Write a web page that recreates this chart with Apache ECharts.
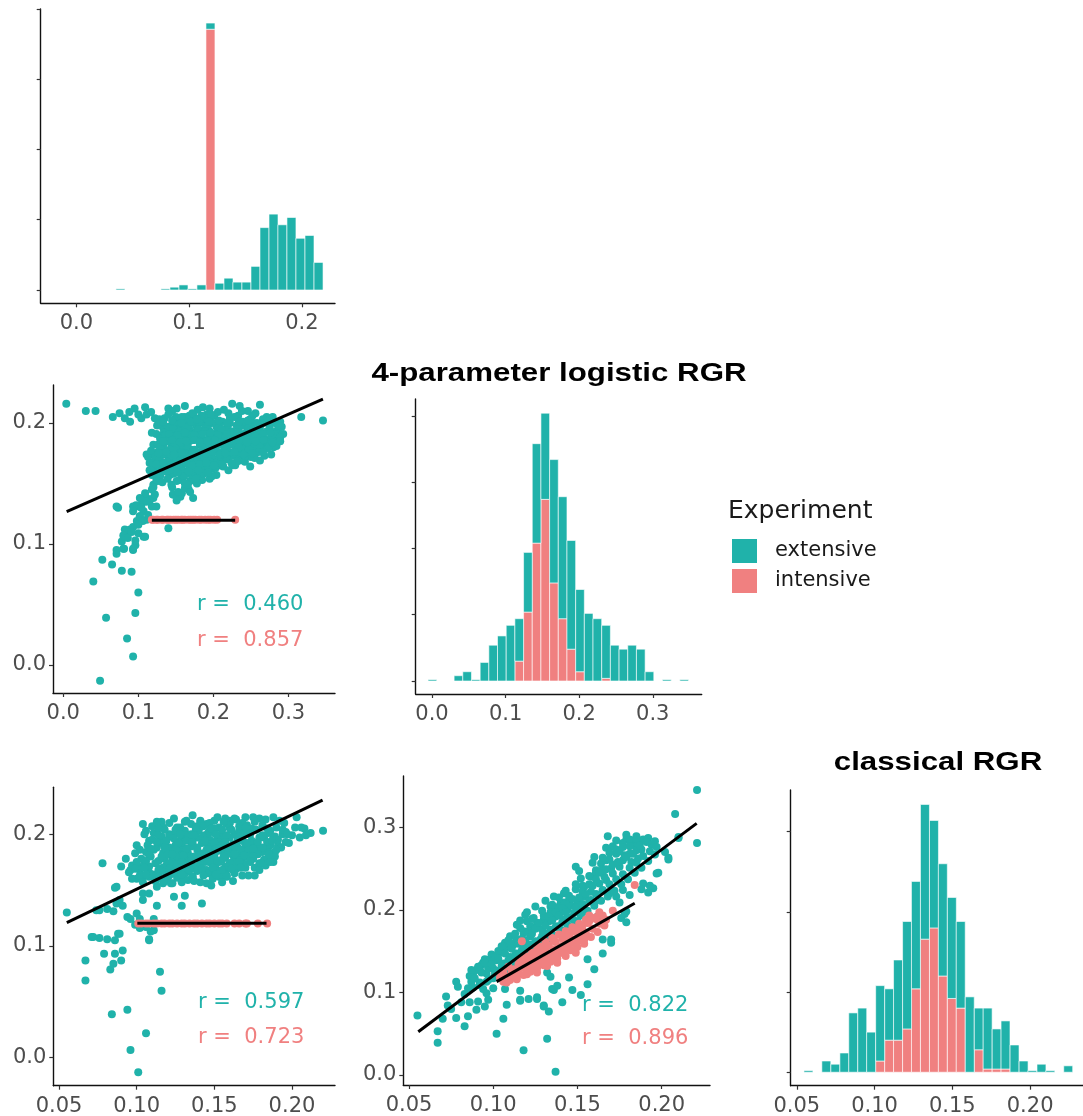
<!DOCTYPE html>
<html>
<head>
<meta charset="utf-8">
<script src="https://cdn.jsdelivr.net/npm/echarts@6/dist/echarts.min.js"></script>
<style>
  html, body { margin: 0; padding: 0; background: #fff; }
  #chart { width: 1083px; height: 1116px; }
</style>
</head>
<body>
<div id="chart"></div>
<script>
const EXT_COLOR = '#20B2AA';
const INT_COLOR = '#F08080';

// ---- Histogram of the first RGR variable (top-left diagonal) ----
const binsFirst = [0.0391,0.0471,0.0551,0.0630,0.0710,0.0790,0.0870,0.0950,0.1029,0.1109,0.1189,
  0.1269,0.1349,0.1428,0.1508,0.1588,0.1668,0.1748,0.1827,0.1907,0.1987,0.2067,0.2147];
const binWidthFirst = 0.00798;
const histFirstExt = [2,0,0,0,0,2,5,9,2,9,11,12,21,14,14,42,111,135,116,129,92,97,49];
const histFirstInt = [0,0,0,0,0,0,0,0,0,0,464,0,0,0,0,0,0,0,0,0,0,0,0];

// ---- Histogram of 4-parameter logistic RGR ----
const binsLogistic = [0.0005,0.0123,0.0241,0.0359,0.0477,0.0595,0.0713,0.0831,0.0949,0.1067,
  0.1185,0.1303,0.1421,0.1539,0.1657,0.1775,0.1893,0.2011,0.2129,0.2247,
  0.2365,0.2483,0.2601,0.2719,0.2837,0.2955,0.3073,0.3191,0.3309,0.3427];
const binWidthLogistic = 0.0118;
const histLogisticExt = [1,0,0,4,7,1,14,27,34,42,32,45,75,65,93,92,82,62,51,47,40,27,24,27,24,7,0,1,0,1];
const histLogisticInt = [0,0,0,0,0,0,0,0,0,0,15,52,104,137,74,47,24,7,0,0,2,0,0,0,0,0,0,0,0,0];

// ---- Histogram of classical RGR ----
const binsClassical = [0.0575,0.0633,0.0690,0.0748,0.0806,0.0863,0.0921,0.0978,0.1036,0.1094,
  0.1151,0.1209,0.1266,0.1324,0.1382,0.1439,0.1497,0.1554,0.1612,0.1670,
  0.1727,0.1785,0.1842,0.1900,0.1958,0.2015,0.2073,0.2130,0.2188,0.2245];
const binWidthClassical = 0.00576;
const histClassicalExt = [1,0,7,5,12,37,40,25,47,32,50,67,67,84,67,70,63,54,47,26,38,25,30,17,7,1,5,1,0,4];
const histClassicalInt = [0,0,0,0,0,0,0,0,7,20,20,27,52,83,90,60,46,40,0,14,2,2,2,0,0,0,0,0,0,0];

// ---- Scatter: x = 4-parameter logistic RGR, y = first RGR ----
const logisticVsFirstExt = [
  [0.040,0.069],[0.052,0.087],[0.065,0.083],[0.071,0.131],[0.071,0.092],[0.078,0.078],[0.081,0.096],[0.085,0.109],
  [0.091,0.077],[0.093,0.095],[0.096,0.099],[0.100,0.060],[0.057,0.039],[0.096,0.043],[0.085,0.022],[0.093,0.007],
  [0.049,-0.013],[0.078,0.102],[0.082,0.106],[0.089,0.112],[0.093,0.114],[0.098,0.119],[0.102,0.123],[0.107,0.127],
  [0.093,0.131],[0.100,0.131],[0.105,0.134],[0.111,0.138],[0.109,0.142],[0.118,0.145],[0.120,0.149],[0.107,0.106],
  [0.100,0.109],[0.096,0.103],[0.111,0.120],[0.113,0.124],[0.118,0.131],[0.120,0.138],[0.124,0.131],[0.124,0.153],
  [0.129,0.156],[0.140,0.113],[0.145,0.147],[0.147,0.141],[0.156,0.139],[0.158,0.142],[0.151,0.136],[0.167,0.145],
  [0.173,0.138],
  [0.004,0.216],[0.030,0.210],[0.043,0.210],[0.066,0.205],[0.075,0.208],[0.082,0.204],[0.088,0.209],[0.089,0.201],
  [0.095,0.212],[0.100,0.207],[0.104,0.204],[0.109,0.213],[0.111,0.207],[0.117,0.209],[0.128,0.203],[0.135,0.204],
  [0.140,0.212],[0.151,0.212],[0.162,0.214],[0.143,0.197],[0.153,0.201],[0.162,0.205],[0.173,0.207],[0.186,0.213],
  [0.195,0.212],[0.225,0.216],[0.235,0.214],[0.262,0.215],[0.271,0.205],[0.317,0.205],[0.346,0.202],[0.222,0.204],
  [0.249,0.203],[0.289,0.201],[0.286,0.193],[0.280,0.180],[0.277,0.174],[0.271,0.186],[0.262,0.182],[0.253,0.190],
  [0.244,0.197],[0.235,0.187],[0.229,0.176],[0.217,0.179],[0.209,0.187],[0.204,0.197],[0.195,0.193],[0.186,0.200],
  [0.177,0.198],[0.169,0.194],[0.160,0.191],[0.151,0.189],[0.142,0.190],[0.133,0.196],[0.129,0.189],[0.124,0.191],
  [0.144,0.182],[0.153,0.179],[0.164,0.183],[0.173,0.186],[0.182,0.182],[0.191,0.183],[0.200,0.179],[0.209,0.175],
  [0.217,0.172],[0.226,0.165],[0.235,0.169],[0.244,0.176],[0.253,0.174],[0.262,0.169],[0.209,0.165],[0.200,0.168],
  [0.191,0.171],[0.182,0.168],[0.173,0.172],[0.164,0.169],[0.155,0.172],[0.146,0.169],[0.137,0.174],[0.129,0.172],
  [0.120,0.174],[0.113,0.172],[0.115,0.167],[0.120,0.165],[0.131,0.165],[0.142,0.164],[0.151,0.160],[0.164,0.160],
  [0.177,0.161],[0.191,0.160],[0.195,0.154],[0.182,0.156],[0.169,0.152],[0.155,0.153],[0.142,0.157],[0.144,0.149],
  [0.146,0.141],[0.153,0.143],[0.162,0.146],[0.169,0.143],[0.166,0.149],[0.204,0.157],[0.213,0.164],[0.229,0.165],
  [0.242,0.168],[0.249,0.164],[0.257,0.176],[0.266,0.179],[0.275,0.182],[0.284,0.187],[0.291,0.197],[0.282,0.200],
  [0.293,0.191],[0.262,0.196],[0.253,0.200],[0.235,0.197],[0.226,0.190],[0.217,0.186],[0.213,0.193],[0.195,0.204],
  [0.182,0.204],[0.171,0.203],[0.160,0.198],[0.173,0.191],[0.184,0.190],[0.195,0.189],[0.209,0.182],[0.222,0.182],
  [0.235,0.179],[0.249,0.185],[0.266,0.190],[0.275,0.196],[0.182,0.176],[0.191,0.176],[0.164,0.176],[0.155,0.185],
  [0.146,0.176],[0.133,0.182],[0.126,0.176],[0.122,0.169],[0.111,0.174],[0.120,0.182],[0.115,0.161],[0.124,0.158],
  [0.126,0.152],[0.120,0.147],[0.122,0.141],[0.115,0.136],[0.111,0.135],[0.102,0.138],[0.097,0.132],[0.104,0.130],
  [0.093,0.127],[0.073,0.130],[0.102,0.123],[0.106,0.119],[0.100,0.116],[0.082,0.112],[0.091,0.110],[0.080,0.107],
  [0.086,0.105],[0.109,0.106],[0.071,0.095],[0.080,0.096],[0.093,0.096],
  [0.140,0.186],[0.148,0.194],[0.157,0.195],[0.166,0.188],[0.178,0.193],[0.187,0.186],[0.198,0.184],[0.206,0.192],
  [0.219,0.196],[0.228,0.185],[0.240,0.188],[0.246,0.180],[0.258,0.185],[0.268,0.173],[0.283,0.193],[0.150,0.178],
  [0.160,0.180],[0.170,0.178],[0.178,0.171],[0.188,0.179],[0.196,0.172],[0.205,0.170],[0.214,0.177],[0.224,0.173],
  [0.232,0.172],[0.240,0.181],[0.255,0.180],[0.270,0.184],[0.137,0.167],[0.148,0.166],[0.158,0.165],[0.170,0.164],
  [0.180,0.163],[0.188,0.165],[0.198,0.162],[0.158,0.156],[0.171,0.157],[0.185,0.153],[0.178,0.150],[0.132,0.160],
  [0.128,0.166],[0.135,0.178],[0.139,0.193],[0.147,0.200],[0.158,0.203],[0.168,0.199],[0.190,0.196],[0.200,0.200],
  [0.210,0.201],[0.220,0.190],[0.244,0.192],[0.258,0.193],[0.278,0.190],[0.288,0.185],[0.262,0.178],[0.250,0.172],
  [0.238,0.175],[0.125,0.198],[0.118,0.192],
  [0.145,0.210],[0.168,0.206],[0.179,0.211],[0.191,0.207],[0.206,0.209],[0.214,0.211],[0.233,0.206],[0.246,0.210],
  [0.256,0.208],[0.122,0.204],[0.150,0.205],[0.164,0.201],[0.189,0.204],[0.201,0.206],[0.212,0.201],[0.228,0.205],
  [0.239,0.201],[0.266,0.203],[0.279,0.205],[0.127,0.199],[0.139,0.197],[0.153,0.199],[0.165,0.196],[0.181,0.201],
  [0.193,0.198],[0.207,0.196],[0.222,0.200],[0.231,0.198],[0.247,0.196],[0.267,0.200],[0.286,0.198],[0.134,0.192],
  [0.147,0.195],[0.155,0.193],[0.168,0.191],[0.180,0.195],[0.189,0.193],[0.202,0.191],[0.211,0.195],[0.225,0.193],
  [0.238,0.191],[0.252,0.195],[0.271,0.193],[0.281,0.191],[0.129,0.187],[0.136,0.190],[0.149,0.188],[0.160,0.186],
  [0.171,0.190],[0.181,0.188],[0.192,0.186],[0.204,0.190],[0.215,0.188],[0.230,0.186],[0.243,0.189],[0.254,0.188],
  [0.264,0.186],[0.277,0.189],[0.289,0.188],[0.126,0.182],[0.139,0.185],[0.152,0.183],[0.160,0.181],[0.168,0.185],
  [0.186,0.183],[0.198,0.181],[0.207,0.184],[0.215,0.183],[0.229,0.181],[0.237,0.185],[0.251,0.183],[0.261,0.181],
  [0.272,0.184],[0.284,0.181],[0.117,0.177],[0.129,0.180],[0.142,0.178],[0.157,0.176],[0.166,0.180],[0.175,0.178],
  [0.186,0.176],[0.194,0.179],[0.204,0.177],[0.221,0.176],[0.234,0.180],[0.247,0.178],[0.260,0.176],[0.272,0.179],
  [0.123,0.172],[0.134,0.175],[0.143,0.173],[0.151,0.171],[0.162,0.175],[0.170,0.173],[0.179,0.171],[0.189,0.174],
  [0.198,0.173],[0.211,0.171],[0.227,0.175],[0.242,0.173],[0.255,0.171],[0.119,0.167],[0.128,0.170],[0.138,0.168],
  [0.149,0.166],[0.159,0.170],[0.169,0.168],[0.176,0.166],[0.187,0.169],[0.195,0.168],[0.207,0.166],[0.218,0.170],
  [0.231,0.168],[0.122,0.162],[0.133,0.165],[0.146,0.163],[0.155,0.161],[0.167,0.165],[0.174,0.163],[0.185,0.161],
  [0.193,0.164],[0.203,0.163],[0.220,0.161],[0.118,0.157],[0.137,0.160],[0.147,0.158],[0.161,0.156],[0.175,0.159],
  [0.187,0.158],[0.198,0.156],[0.132,0.151],[0.139,0.154],[0.151,0.152],[0.162,0.150],[0.177,0.154],
  [0.140,0.207],[0.158,0.205],[0.172,0.208],[0.184,0.206],[0.197,0.207],[0.220,0.208],[0.238,0.210],[0.252,0.206],
  [0.133,0.201],[0.145,0.202],[0.157,0.200],[0.170,0.201],[0.178,0.203],[0.194,0.201],[0.207,0.202],[0.218,0.200],
  [0.234,0.201],[0.246,0.202],[0.258,0.200],[0.272,0.201],[0.141,0.191],[0.152,0.190],[0.162,0.192],[0.175,0.190],
  [0.185,0.191],[0.196,0.192],[0.206,0.190],[0.218,0.191],[0.232,0.192],[0.245,0.190],[0.258,0.189],[0.266,0.191],
  [0.276,0.192],[0.133,0.185],[0.145,0.186],[0.156,0.184],[0.164,0.185],[0.175,0.186],[0.182,0.184],[0.192,0.185],
  [0.202,0.186],[0.211,0.184],[0.222,0.185],[0.234,0.186],[0.245,0.184],[0.256,0.185],[0.267,0.186],[0.279,0.184],
  [0.289,0.185],[0.127,0.175],[0.137,0.176],[0.148,0.174],[0.158,0.175],[0.172,0.176],[0.181,0.174],[0.190,0.175],
  [0.199,0.176],[0.208,0.174],[0.216,0.175],[0.228,0.176],[0.240,0.174],[0.252,0.175],[0.266,0.176],[0.124,0.166],
  [0.133,0.167],[0.144,0.165],[0.154,0.166],[0.164,0.167],[0.172,0.165],[0.182,0.166],[0.191,0.167],[0.201,0.165],
  [0.212,0.166],[0.224,0.167],[0.127,0.160],[0.141,0.161],[0.152,0.159],[0.167,0.160],[0.180,0.161],[0.193,0.159]
];
const logisticVsFirstInt = [
  [0.118,0.120],[0.120,0.120],[0.124,0.120],[0.126,0.120],[0.131,0.120],[0.133,0.120],[0.138,0.120],[0.140,0.120],
  [0.143,0.120],[0.147,0.120],[0.150,0.120],[0.153,0.120],[0.157,0.120],[0.159,0.120],[0.162,0.120],[0.167,0.120],
  [0.170,0.120],[0.173,0.120],[0.176,0.120],[0.181,0.120],[0.184,0.120],[0.189,0.120],[0.193,0.120],[0.196,0.120],
  [0.201,0.120],[0.205,0.120],[0.229,0.120]
];

// ---- Scatter: x = classical RGR, y = first RGR ----
const classicalVsFirstExt = [
  [0.055,0.130],[0.067,0.087],[0.067,0.069],[0.071,0.108],[0.076,0.107],[0.079,0.093],[0.083,0.079],[0.084,0.039],
  [0.085,0.084],[0.086,0.093],[0.088,0.111],[0.090,0.087],[0.091,0.096],[0.094,0.043],[0.096,0.007],[0.101,-0.013],
  [0.106,0.022],[0.115,0.077],[0.116,0.060],[0.108,0.106],[0.106,0.117],[0.109,0.113],[0.102,0.116],[0.099,0.119],
  [0.096,0.124],[0.094,0.126],[0.076,0.132],[0.081,0.133],[0.085,0.131],[0.087,0.138],[0.086,0.152],[0.078,0.174],
  [0.074,0.132],[0.089,0.141],[0.087,0.153],[0.091,0.136],[0.100,0.129],[0.104,0.141],[0.104,0.147],[0.108,0.147],
  [0.111,0.114],[0.108,0.105],[0.089,0.111],[0.086,0.105],[0.081,0.106],[0.072,0.108],[0.111,0.124],[0.102,0.124],
  [0.113,0.136],[0.124,0.144],[0.131,0.145],[0.129,0.136],[0.142,0.138],[0.176,0.163],[0.148,0.154],[0.104,0.209],
  [0.106,0.203],[0.105,0.200],[0.108,0.194],[0.116,0.211],[0.117,0.206],[0.100,0.190],[0.102,0.186],[0.099,0.183],
  [0.093,0.178],[0.090,0.171],[0.096,0.168],[0.101,0.171],[0.105,0.174],[0.108,0.166],[0.104,0.162],[0.100,0.160],
  [0.113,0.160],[0.117,0.156],[0.113,0.153],[0.123,0.156],[0.120,0.162],[0.128,0.162],[0.132,0.166],[0.136,0.162],
  [0.143,0.168],[0.149,0.165],[0.156,0.163],[0.162,0.168],[0.166,0.172],[0.173,0.175],[0.179,0.174],[0.186,0.178],
  [0.189,0.184],[0.183,0.188],[0.188,0.196],[0.194,0.200],[0.196,0.193],[0.192,0.212],[0.203,0.215],[0.202,0.206],
  [0.208,0.205],[0.220,0.203],[0.179,0.214],[0.175,0.215],[0.170,0.215],[0.163,0.214],[0.157,0.214],[0.150,0.212],
  [0.145,0.209],[0.136,0.217],[0.141,0.212],[0.131,0.211],[0.131,0.203],[0.126,0.206],[0.121,0.200],[0.119,0.194],
  [0.113,0.188],[0.117,0.183],[0.123,0.186],[0.128,0.194],[0.134,0.197],[0.138,0.203],[0.147,0.203],[0.153,0.206],
  [0.160,0.205],[0.166,0.203],[0.173,0.200],[0.179,0.197],[0.175,0.191],[0.168,0.194],[0.162,0.191],[0.156,0.194],
  [0.149,0.193],[0.143,0.194],[0.136,0.190],[0.130,0.184],[0.123,0.178],[0.119,0.172],[0.115,0.169],[0.123,0.169],
  [0.130,0.174],[0.136,0.178],[0.143,0.183],[0.149,0.186],[0.156,0.184],[0.162,0.181],[0.168,0.184],[0.175,0.183],
  [0.181,0.184],[0.186,0.190],[0.141,0.174],[0.147,0.175],[0.153,0.175],[0.160,0.174],[0.158,0.169],[0.151,0.169],
  [0.145,0.168],[0.137,0.169],[0.132,0.171],[0.127,0.166],[0.119,0.165],[0.108,0.171],[0.158,0.163],[0.175,0.178],
  [0.168,0.178],[0.179,0.187],[0.196,0.202],[0.186,0.203],
  [0.127,0.175],[0.133,0.180],[0.139,0.186],[0.146,0.190],[0.152,0.190],[0.158,0.188],[0.165,0.188],[0.171,0.188],
  [0.140,0.179],[0.150,0.180],[0.157,0.179],[0.164,0.177],[0.170,0.170],[0.125,0.190],[0.135,0.200],[0.144,0.199],
  [0.155,0.199],[0.165,0.198],[0.171,0.208],[0.160,0.210],[0.150,0.201],[0.185,0.184],[0.191,0.190],[0.134,0.173],
  [0.146,0.180],[0.152,0.196],[0.161,0.186],[0.118,0.178],[0.128,0.188],[0.139,0.207],[0.145,0.186],
  [0.124,0.214],[0.141,0.211],[0.152,0.215],[0.160,0.212],[0.168,0.210],[0.183,0.213],[0.188,0.215],[0.110,0.207],
  [0.121,0.210],[0.128,0.206],[0.135,0.209],[0.143,0.207],[0.150,0.205],[0.158,0.209],[0.166,0.207],[0.174,0.205],
  [0.181,0.208],[0.190,0.206],[0.111,0.201],[0.118,0.204],[0.124,0.200],[0.131,0.199],[0.140,0.203],[0.146,0.201],
  [0.155,0.204],[0.163,0.200],[0.170,0.202],[0.177,0.204],[0.185,0.201],[0.200,0.199],[0.212,0.201],[0.110,0.195],
  [0.116,0.198],[0.124,0.196],[0.132,0.194],[0.139,0.197],[0.147,0.195],[0.153,0.193],[0.160,0.197],[0.168,0.196],
  [0.174,0.194],[0.182,0.197],[0.191,0.195],[0.205,0.197],[0.107,0.190],[0.115,0.192],[0.121,0.188],[0.129,0.191],
  [0.135,0.189],[0.142,0.192],[0.155,0.190],[0.163,0.188],[0.170,0.191],[0.178,0.189],[0.184,0.193],[0.193,0.188],
  [0.106,0.184],[0.111,0.186],[0.120,0.182],[0.126,0.185],[0.133,0.183],[0.140,0.181],[0.152,0.185],[0.159,0.183],
  [0.166,0.181],[0.172,0.186],[0.178,0.182],[0.189,0.180],[0.103,0.178],[0.109,0.180],[0.114,0.176],[0.127,0.179],
  [0.131,0.177],[0.144,0.175],[0.150,0.179],[0.155,0.177],[0.162,0.175],[0.171,0.180],[0.182,0.177],[0.188,0.175],
  [0.097,0.172],[0.112,0.174],[0.117,0.170],[0.125,0.173],[0.138,0.171],[0.151,0.174],[0.157,0.171],[0.164,0.169],
  [0.169,0.173],[0.176,0.170],[0.183,0.172],[0.095,0.166],[0.102,0.168],[0.111,0.164],[0.116,0.167],[0.123,0.165],
  [0.130,0.163],[0.139,0.167],[0.146,0.165],[0.153,0.162],[0.163,0.165],[0.172,0.163],[0.097,0.160],[0.108,0.162],
  [0.118,0.158],[0.126,0.161],[0.133,0.159],[0.141,0.157],[0.149,0.160],[0.162,0.158],
  [0.113,0.211],[0.132,0.212],[0.147,0.210],[0.156,0.211],[0.164,0.213],[0.176,0.211],[0.195,0.210],[0.114,0.205],
  [0.125,0.204],[0.138,0.206],[0.148,0.205],[0.161,0.204],[0.170,0.206],[0.184,0.205],[0.194,0.204],[0.206,0.206],
  [0.114,0.199],[0.121,0.198],[0.128,0.200],[0.137,0.199],[0.143,0.198],[0.151,0.200],[0.158,0.199],[0.166,0.198],
  [0.173,0.200],[0.181,0.199],[0.189,0.198],[0.197,0.200],[0.209,0.199],[0.113,0.193],[0.119,0.194],[0.127,0.192],
  [0.136,0.193],[0.144,0.194],[0.150,0.192],[0.157,0.193],[0.165,0.194],[0.171,0.192],[0.178,0.193],[0.187,0.194],
  [0.198,0.192],[0.109,0.187],[0.118,0.188],[0.125,0.186],[0.132,0.187],[0.139,0.188],[0.146,0.186],[0.151,0.187],
  [0.159,0.188],[0.167,0.186],[0.175,0.187],[0.181,0.188],[0.190,0.186],[0.108,0.181],[0.116,0.180],[0.123,0.182],
  [0.130,0.181],[0.137,0.180],[0.145,0.182],[0.148,0.181],[0.156,0.180],[0.163,0.182],[0.169,0.181],[0.175,0.180],
  [0.185,0.182],[0.100,0.175],[0.106,0.176],[0.121,0.174],[0.129,0.175],[0.135,0.176],[0.141,0.174],[0.147,0.175],
  [0.153,0.176],[0.160,0.174],[0.166,0.175],[0.173,0.176],[0.180,0.174],[0.186,0.175],[0.099,0.169],[0.105,0.170],
  [0.114,0.168],[0.121,0.169],[0.128,0.170],[0.134,0.168],[0.142,0.169],[0.149,0.170],[0.155,0.168],[0.161,0.169],
  [0.167,0.170],[0.179,0.168],[0.102,0.163],[0.106,0.164],[0.114,0.162],[0.121,0.163],[0.129,0.164],[0.136,0.162],
  [0.143,0.163],[0.151,0.164],[0.158,0.162],[0.168,0.163],[0.104,0.157],[0.112,0.158],[0.122,0.156],[0.129,0.157],
  [0.137,0.158],[0.145,0.156],[0.155,0.157]
];
const classicalVsFirstInt = [
  [0.101,0.120],[0.103,0.120],[0.106,0.120],[0.108,0.120],[0.111,0.120],[0.113,0.120],[0.116,0.120],[0.118,0.120],
  [0.121,0.120],[0.123,0.120],[0.126,0.120],[0.129,0.120],[0.131,0.120],[0.134,0.120],[0.137,0.120],[0.139,0.120],
  [0.142,0.120],[0.145,0.120],[0.147,0.120],[0.150,0.120],[0.153,0.120],[0.155,0.120],[0.158,0.120],[0.163,0.120],
  [0.166,0.120],[0.170,0.120],[0.171,0.120],[0.178,0.120],[0.184,0.120]
];

// ---- Scatter: x = classical RGR, y = 4-parameter logistic RGR ----
const classicalVsLogisticExt = [
  [0.221,0.345],[0.208,0.316],[0.221,0.281],[0.210,0.288],[0.204,0.261],[0.202,0.270],[0.197,0.244],[0.195,0.226],
  [0.192,0.221],[0.189,0.232],[0.179,0.198],[0.176,0.190],[0.170,0.164],[0.165,0.147],[0.156,0.110],[0.147,0.103],
  [0.152,0.097],[0.141,0.088],[0.134,0.119],[0.136,0.103],[0.130,0.083],[0.133,0.077],[0.132,0.044],[0.137,0.004],
  [0.118,0.030],[0.102,0.050],[0.106,0.068],[0.108,0.085],[0.116,0.091],[0.121,0.092],[0.126,0.092],[0.067,0.053],
  [0.067,0.039],[0.055,0.072],[0.072,0.095],[0.078,0.069],[0.083,0.059],[0.085,0.071],[0.090,0.079],[0.091,0.089],
  [0.095,0.083],[0.096,0.099],[0.100,0.105],[0.078,0.113],[0.079,0.107],[0.085,0.105],[0.088,0.121],[0.090,0.127],
  [0.093,0.133],[0.096,0.123],[0.100,0.129],[0.102,0.139],[0.105,0.149],[0.108,0.155],[0.112,0.158],[0.114,0.164],
  [0.118,0.174],[0.114,0.182],[0.119,0.194],[0.125,0.204],[0.124,0.190],[0.130,0.188],[0.134,0.204],[0.136,0.216],
  [0.142,0.220],[0.140,0.208],[0.145,0.212],[0.149,0.252],[0.152,0.238],[0.154,0.228],[0.158,0.240],[0.161,0.248],
  [0.160,0.264],[0.164,0.256],[0.167,0.260],[0.168,0.289],[0.167,0.275],[0.171,0.277],[0.173,0.268],[0.177,0.260],
  [0.179,0.285],[0.183,0.279],[0.185,0.272],[0.189,0.285],[0.192,0.287],[0.185,0.289],[0.181,0.268],[0.175,0.252],
  [0.171,0.244],[0.167,0.236],[0.165,0.224],[0.169,0.220],[0.173,0.216],[0.177,0.224],[0.181,0.218],[0.160,0.208],
  [0.162,0.192],[0.152,0.200],[0.148,0.196],[0.144,0.200],[0.142,0.188],[0.138,0.180],[0.134,0.176],[0.130,0.172],
  [0.126,0.180],[0.128,0.164],[0.122,0.168],[0.118,0.155],[0.114,0.147],[0.110,0.143],[0.106,0.135],
  [0.132,0.124],[0.135,0.104],[0.138,0.108],[0.145,0.118],[0.156,0.140],[0.160,0.128],[0.165,0.164],[0.170,0.160],
  [0.175,0.209],[0.178,0.195],[0.179,0.185],[0.188,0.225],[0.193,0.229],[0.198,0.245],[0.204,0.263],[0.210,0.287],
  [0.107,0.104],[0.116,0.102],[0.126,0.094],[0.130,0.084],[0.116,0.090],[0.086,0.120],[0.094,0.136],[0.098,0.140],
  [0.102,0.144],[0.106,0.152],[0.110,0.160],[0.118,0.172],[0.122,0.180],[0.126,0.184],[0.130,0.193],[0.134,0.197],
  [0.138,0.203],[0.142,0.209],[0.145,0.217],[0.149,0.225],[0.153,0.229],[0.157,0.241],[0.161,0.245],[0.165,0.249],
  [0.169,0.261],[0.173,0.273],[0.177,0.281],[0.181,0.285],[0.185,0.281],
  [0.092,0.112],[0.097,0.115],[0.101,0.121],[0.104,0.127],[0.108,0.131],[0.111,0.138],[0.115,0.140],[0.119,0.148],
  [0.122,0.158],[0.125,0.162],[0.129,0.168],[0.133,0.186],[0.137,0.192],[0.141,0.198],[0.146,0.205],[0.150,0.210],
  [0.154,0.216],[0.158,0.222],[0.163,0.232],[0.166,0.240],[0.170,0.250],[0.174,0.258],[0.178,0.266],[0.182,0.258],
  [0.186,0.262],[0.188,0.273],[0.194,0.279],[0.196,0.283],[0.155,0.198],[0.158,0.212],[0.150,0.186],[0.146,0.190],
  [0.120,0.186],[0.116,0.178],[0.110,0.168],[0.107,0.160],[0.103,0.150],[0.099,0.146],[0.095,0.140],[0.087,0.113],
  [0.083,0.098],[0.081,0.088],[0.086,0.088],[0.075,0.080],[0.070,0.068],[0.073,0.084],[0.097,0.091],[0.094,0.104],
  [0.088,0.106],[0.089,0.117],[0.087,0.127],[0.092,0.109],[0.093,0.124],[0.091,0.131],[0.096,0.113],[0.097,0.129],
  [0.095,0.136],[0.100,0.117],[0.101,0.126],[0.099,0.134],[0.101,0.143],[0.104,0.121],[0.105,0.132],[0.103,0.141],
  [0.105,0.156],[0.108,0.124],[0.109,0.139],[0.107,0.147],[0.109,0.163],[0.112,0.134],[0.113,0.145],[0.111,0.153],
  [0.113,0.171],[0.116,0.137],[0.117,0.151],[0.115,0.159],[0.117,0.165],[0.116,0.187],[0.120,0.143],[0.121,0.156],
  [0.119,0.163],[0.121,0.174],[0.120,0.197],[0.124,0.151],[0.125,0.159],[0.123,0.171],[0.125,0.177],[0.123,0.189],
  [0.128,0.157],[0.129,0.176],[0.127,0.184],[0.129,0.199],[0.132,0.164],[0.133,0.172],[0.131,0.181],[0.133,0.192],
  [0.131,0.211],[0.136,0.169],[0.137,0.179],[0.135,0.187],[0.137,0.197],[0.135,0.206],[0.140,0.176],[0.141,0.185],
  [0.139,0.193],[0.141,0.202],[0.139,0.215],[0.144,0.182],[0.145,0.191],[0.143,0.197],[0.145,0.208],[0.143,0.223],
  [0.148,0.187],[0.149,0.203],[0.147,0.213],[0.149,0.231],[0.152,0.193],[0.153,0.207],[0.151,0.215],[0.153,0.222],
  [0.151,0.247],[0.156,0.199],[0.157,0.211],[0.155,0.219],[0.157,0.231],[0.160,0.205],[0.161,0.219],[0.159,0.229],
  [0.161,0.237],[0.159,0.257],[0.164,0.211],[0.165,0.223],[0.163,0.245],[0.165,0.263],[0.168,0.216],[0.169,0.231],
  [0.167,0.249],[0.169,0.269],[0.172,0.223],[0.173,0.237],[0.171,0.255],[0.173,0.284],[0.176,0.231],[0.177,0.243],
  [0.175,0.271],[0.177,0.276],[0.180,0.237],[0.181,0.251],[0.179,0.264],[0.181,0.277],[0.179,0.291],[0.184,0.245],
  [0.185,0.257],[0.183,0.268],[0.185,0.286],[0.188,0.251],[0.189,0.265],[0.187,0.278],[0.192,0.259],[0.193,0.271],
  [0.191,0.282],[0.196,0.267],[0.197,0.276]
];
const classicalVsLogisticInt = [
  [0.104,0.118],[0.106,0.124],[0.110,0.120],[0.112,0.128],[0.115,0.124],[0.117,0.162],[0.118,0.132],[0.121,0.136],
  [0.122,0.128],[0.125,0.140],[0.126,0.132],[0.128,0.144],[0.130,0.138],[0.132,0.148],[0.134,0.142],[0.136,0.152],
  [0.138,0.146],[0.140,0.156],[0.142,0.150],[0.143,0.160],[0.145,0.154],[0.147,0.164],[0.149,0.158],[0.151,0.168],
  [0.153,0.176],[0.154,0.164],[0.156,0.184],[0.155,0.172],[0.149,0.176],[0.145,0.172],[0.142,0.168],[0.136,0.164],
  [0.130,0.156],[0.126,0.152],[0.122,0.144],[0.116,0.140],[0.132,0.132],[0.138,0.136],[0.143,0.144],[0.149,0.148],
  [0.126,0.124],[0.120,0.122],[0.114,0.116],[0.108,0.112],[0.163,0.197],[0.165,0.193],[0.171,0.199],[0.164,0.184],
  [0.184,0.230],[0.157,0.193],[0.161,0.189],
  [0.106,0.113],[0.105,0.121],[0.110,0.115],[0.111,0.125],[0.109,0.131],[0.114,0.119],[0.113,0.127],[0.115,0.134],
  [0.118,0.121],[0.119,0.129],[0.117,0.138],[0.119,0.144],[0.122,0.125],[0.123,0.133],[0.121,0.141],[0.123,0.148],
  [0.126,0.129],[0.127,0.137],[0.125,0.147],[0.127,0.156],[0.130,0.133],[0.131,0.143],[0.129,0.151],[0.131,0.161],
  [0.134,0.137],[0.135,0.147],[0.133,0.157],[0.135,0.166],[0.138,0.141],[0.139,0.151],[0.137,0.161],[0.139,0.170],
  [0.142,0.147],[0.143,0.157],[0.141,0.165],[0.143,0.174],[0.146,0.151],[0.147,0.161],[0.145,0.169],[0.147,0.179],
  [0.150,0.155],[0.151,0.163],[0.149,0.173],[0.151,0.183],[0.154,0.159],[0.155,0.169],[0.153,0.181],[0.155,0.188],
  [0.158,0.167],[0.159,0.177],[0.157,0.186],[0.162,0.173],[0.163,0.183],[0.161,0.191],[0.166,0.181],[0.167,0.188]
];

// ---- Least-squares fit segments (endpoints) per group ----
const fitLogisticVsFirstExt = [[0.0045,0.1267],[0.3459,0.2198]];
const fitLogisticVsFirstInt = [[0.118,0.1196],[0.229,0.1196]];
const fitClassicalVsFirstExt = [[0.055,0.1208],[0.2197,0.2305]];
const fitClassicalVsFirstInt = [[0.1004,0.1202],[0.1836,0.1202]];
const fitClassicalVsLogisticExt = [[0.0555,0.0524],[0.2208,0.3047]];
const fitClassicalVsLogisticInt = [[0.102,0.113],[0.184,0.2079]];

// ---- Pearson correlations per group [extensive, intensive] ----
const corrLogisticVsFirst = [0.460, 0.857];
const corrClassicalVsFirst = [0.597, 0.723];
const corrClassicalVsLogistic = [0.822, 0.896];

// ---- Tick values ----
const ticksTenths3 = [0, 0.1, 0.2];
const ticksTenths4 = [0, 0.1, 0.2, 0.3];
const ticksTwentieths = [0.05, 0.10, 0.15, 0.20];
const countTicksFirst = [0, 125, 250, 375, 500];
const countTicksLogistic = [0, 50, 100, 150, 200];
const countTicksClassical = [0, 50, 100, 150];

const FONT = 'DejaVu Sans';

function valueAxis(gridIndex, min, max, ticks, digits, showLabels, margin) {
  return {
    type: 'value', gridIndex, min, max,
    axisLine: { show: true, onZero: false, lineStyle: { color: '#111', width: 1.4 } },
    axisTick: { show: true, length: 4, lineStyle: { color: '#333', width: 1.2 }, customValues: ticks },
    axisLabel: {
      show: showLabels, customValues: ticks, margin,
      formatter: v => Number(v).toFixed(digits),
      color: '#4d4d4d', fontFamily: FONT, fontSize: 21
    },
    splitLine: { show: false }
  };
}

// Stacked histogram: intensive counts at the bottom, extensive counts on top of them.
function histSeries(axisIndex, bins, ext, int, binWidth) {
  const half = binWidth / 2;
  const barRenderer = color => function (params, api) {
    const x = api.value(0), base = api.value(1), top = api.value(2);
    if (!(top > base)) return null;
    const p0 = api.coord([x - half, base]);
    const p1 = api.coord([x + half, top]);
    return {
      type: 'rect',
      shape: { x: p0[0], y: p1[1], width: p1[0] - p0[0], height: p0[1] - p1[1] },
      style: { fill: color, stroke: '#fff', lineWidth: 0.6 }
    };
  };
  const common = { type: 'custom', xAxisIndex: axisIndex, yAxisIndex: axisIndex, silent: true, encode: { x: 0, y: [1, 2] } };
  return [
    Object.assign({}, common, {
      name: 'intensive', renderItem: barRenderer(INT_COLOR), itemStyle: { color: INT_COLOR },
      data: bins.map((b, i) => [b, 0, int[i]])
    }),
    Object.assign({}, common, {
      name: 'extensive', renderItem: barRenderer(EXT_COLOR), itemStyle: { color: EXT_COLOR },
      data: bins.map((b, i) => [b, int[i], int[i] + ext[i]])
    })
  ];
}

function scatterSeries(axisIndex, ext, int, fitExt, fitInt) {
  const pts = (name, data, color) => ({
    type: 'scatter', name, xAxisIndex: axisIndex, yAxisIndex: axisIndex,
    data, symbolSize: 8, silent: true, itemStyle: { color, opacity: 1 }
  });
  const fit = data => ({
    type: 'line', name: 'fit', xAxisIndex: axisIndex, yAxisIndex: axisIndex,
    data, showSymbol: false, silent: true, lineStyle: { color: '#000', width: 3 }
  });
  return [pts('extensive', ext, EXT_COLOR), pts('intensive', int, INT_COLOR), fit(fitExt), fit(fitInt)];
}

function corrText(x, y, value, color) {
  return {
    type: 'text', x, y, silent: true,
    style: {
      text: 'r =  ' + value.toFixed(3), fill: color,
      font: '21px "' + FONT + '"', textVerticalAlign: 'middle', verticalAlign: 'middle'
    }
  };
}

function titleText(x, y, text) {
  return {
    type: 'text', x, y, scaleX: 1.25, silent: true,
    style: {
      text, fill: '#000', font: 'bold 25px "Liberation Sans"',
      textAlign: 'center', align: 'center', textVerticalAlign: 'middle', verticalAlign: 'middle'
    }
  };
}

const gridBase = { containLabel: false, outerBoundsMode: 'none' };
const option = {
  animation: false,
  backgroundColor: '#fff',
  grid: [
    Object.assign({ left: 40.7, top: 9, width: 294.3, height: 294.3 }, gridBase),
    Object.assign({ left: 53, top: 385, width: 282, height: 308 }, gridBase),
    Object.assign({ left: 415.7, top: 399, width: 286, height: 295 }, gridBase),
    Object.assign({ left: 53.3, top: 787.3, width: 281.7, height: 298.4 }, gridBase),
    Object.assign({ left: 403.3, top: 776, width: 306.7, height: 309 }, gridBase),
    Object.assign({ left: 790.7, top: 790, width: 292.3, height: 295.7 }, gridBase)
  ],
  xAxis: [
    valueAxis(0, -0.0316, 0.2293, ticksTenths3, 1, true, 10),
    valueAxis(1, -0.0137, 0.362, ticksTenths4, 1, true, 10),
    valueAxis(2, -0.0222, 0.3665, ticksTenths4, 1, true, 10),
    valueAxis(3, 0.0463, 0.2277, ticksTwentieths, 2, true, 10),
    valueAxis(4, 0.0466, 0.2287, ticksTwentieths, 2, true, 10),
    valueAxis(5, 0.0461, 0.234, ticksTwentieths, 2, true, 10)
  ],
  yAxis: [
    valueAxis(0, -23.7, 500, countTicksFirst, 0, false, 7),
    valueAxis(1, -0.0231, 0.2314, ticksTenths3, 1, true, 7),
    valueAxis(2, -9.8, 212.7, countTicksLogistic, 0, false, 7),
    valueAxis(3, -0.025, 0.2419, ticksTenths3, 1, true, 7),
    valueAxis(4, -0.0121, 0.362, ticksTenths4, 1, true, 7),
    valueAxis(5, -8.4, 176, countTicksClassical, 0, false, 7)
  ],
  legend: {
    data: ['extensive', 'intensive'],
    orient: 'vertical', left: 732, top: 539, padding: 0,
    icon: 'rect', itemWidth: 25, itemHeight: 24, itemGap: 6,
    selectedMode: false,
    textStyle: { fontFamily: FONT, fontSize: 21, color: '#1a1a1a', padding: [0, 0, 0, 13] }
  },
  graphic: [
    titleText(559, 374, '4-parameter logistic RGR'),
    titleText(938, 763, 'classical RGR'),
    {
      type: 'text', x: 728, y: 511, silent: true,
      style: { text: 'Experiment', fill: '#1a1a1a', font: '25px "' + FONT + '"', textVerticalAlign: 'middle', verticalAlign: 'middle' }
    },
    corrText(197, 605, corrLogisticVsFirst[0], EXT_COLOR),
    corrText(197, 641, corrLogisticVsFirst[1], INT_COLOR),
    corrText(198, 1003, corrClassicalVsFirst[0], EXT_COLOR),
    corrText(198, 1038, corrClassicalVsFirst[1], INT_COLOR),
    corrText(582, 1006, corrClassicalVsLogistic[0], EXT_COLOR),
    corrText(582, 1039, corrClassicalVsLogistic[1], INT_COLOR)
  ],
  series: [].concat(
    histSeries(0, binsFirst, histFirstExt, histFirstInt, binWidthFirst),
    scatterSeries(1, logisticVsFirstExt, logisticVsFirstInt, fitLogisticVsFirstExt, fitLogisticVsFirstInt),
    histSeries(2, binsLogistic, histLogisticExt, histLogisticInt, binWidthLogistic),
    scatterSeries(3, classicalVsFirstExt, classicalVsFirstInt, fitClassicalVsFirstExt, fitClassicalVsFirstInt),
    scatterSeries(4, classicalVsLogisticExt, classicalVsLogisticInt, fitClassicalVsLogisticExt, fitClassicalVsLogisticInt),
    histSeries(5, binsClassical, histClassicalExt, histClassicalInt, binWidthClassical)
  )
};

const chart = echarts.init(document.getElementById('chart'), null, { renderer: 'canvas' });
chart.setOption(option);
</script>
</body>
</html>
